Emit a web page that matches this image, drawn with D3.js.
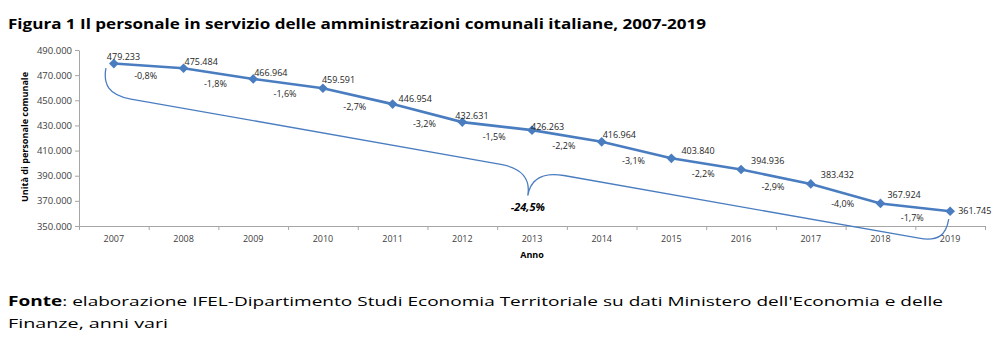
<!DOCTYPE html>
<html>
<head>
<meta charset="utf-8">
<script src="https://cdn.jsdelivr.net/npm/d3@7"></script>
<style>
body{margin:0;background:#fff;}
svg{display:block;font-family:"Open Sans",sans-serif;}
</style>
</head>
<body>
<div id="chart"></div>
<script>
// dati
var years = ["2007","2008","2009","2010","2011","2012","2013","2014","2015","2016","2017","2018","2019"];
var staff = [479233,475484,466964,459591,446954,432631,426263,416964,403840,394936,383432,367924,361745];
var changes = ["-0,8%","-1,8%","-1,6%","-2,7%","-3,2%","-1,5%","-2,2%","-3,1%","-2,2%","-2,9%","-4,0%","-1,7%"];
var totalChange = "-24,5%";
var yTicks = [350000,370000,390000,410000,430000,450000,470000,490000];

// spostamenti delle etichette (come nel grafico excel)
var labelNudge = [[-7,-7],[1,-6],[1,-6],[-1,-8],[6,-5],[-7,-6],[-1,-3],[1,-7],[10,-8],[10,-9],[10,-9],[7,-9],[8,0]];

var W = 1002, H = 347;
var blue = "#4a7dc0";
var it = d3.formatLocale({decimal:",", thousands:".", grouping:[3], currency:["€",""]});
var fmt = it.format(",d");

var svg = d3.select("#chart").append("svg")
	.attr("width", W)
	.attr("height", H);

// titolo
svg.append("text")
	.attr("x", 8)
	.attr("y", 29)
	.attr("font-size", 15)
	.attr("font-weight", "bold")
	.attr("fill", "#000")
	.attr("textLength", 698)
	.attr("lengthAdjust", "spacingAndGlyphs")
	.text("Figura 1 Il personale in servizio delle amministrazioni comunali italiane, 2007-2019");

//scales
var x = d3.scaleBand().domain(years).range([79, 985]).padding(0);
var y = d3.scaleLinear().domain([350000, 490000]).range([226, 50]);

var y_axis = d3.axisLeft(y).tickValues(yTicks).tickFormat(fmt).tickSize(4).tickSizeOuter(0);
var gy = svg.append("g")
	.attr("transform", "translate(79,0)")
	.call(y_axis);
gy.selectAll("text").attr("font-size", 9.5).attr("fill", "#404040").attr("font-family", "Open Sans").attr("x", -7);

// asse x: etichette al centro, tacche tra le categorie
var x_axis = d3.axisBottom(x).tickSize(0).tickSizeOuter(0).tickPadding(10);
var gx = svg.append("g")
	.attr("transform", "translate(0,226)")
	.call(x_axis);
gx.selectAll("text").attr("font-size", 9).attr("fill", "#404040").attr("font-family", "Open Sans");

var xt = d3.scaleLinear().domain([0, years.length]).range(x.range());
svg.append("g")
	.attr("transform", "translate(0,226)")
	.call(d3.axisBottom(xt).tickValues(d3.range(years.length + 1)).tickFormat("").tickSize(4).tickSizeOuter(0));

svg.selectAll(".domain, .tick line").attr("stroke", "#a6a6a6");

// titoli assi
svg.append("text")
	.attr("x", 532)
	.attr("y", 258)
	.attr("text-anchor", "middle")
	.attr("font-size", 9)
	.attr("font-weight", "bold")
	.attr("fill", "#000")
	.text("Anno");
svg.append("text")
	.attr("transform", "translate(28,137) rotate(-90)")
	.attr("text-anchor", "middle")
	.attr("font-size", 9)
	.attr("font-weight", "bold")
	.attr("fill", "#000")
	.attr("textLength", 130)
	.attr("lengthAdjust", "spacingAndGlyphs")
	.text("Unità di personale comunale");

var cx = function(i){ return x(years[i]) + x.bandwidth() / 2; };

// parentesi graffa della variazione totale
var p0 = [cx(0), y(staff[0])];
var p1 = [cx(years.length - 1), y(staff[staff.length - 1])];
var ang = Math.atan2(p1[1] - p0[1], p1[0] - p0[0]);
var L = Math.hypot(p1[0] - p0[0], p1[1] - p0[1]);
var uc = L * 0.507, off = 32, tip = 58;
var brace = d3.path();
brace.moveTo(-7, 6);
brace.bezierCurveTo(-7, 22, 0, off, 23, off);
brace.lineTo(uc - 32, off);
brace.bezierCurveTo(uc - 10, off, uc, off + 10, uc, tip);
brace.bezierCurveTo(uc, off + 10, uc + 10, off, uc + 32, off);
brace.lineTo(L - 26, off);
brace.bezierCurveTo(L - 6, off, L, off - 8, L, 8);
svg.append("path")
	.attr("transform", "translate(" + p0[0] + "," + p0[1] + ") rotate(" + (ang * 180 / Math.PI) + ")")
	.attr("d", brace.toString())
	.attr("fill", "none")
	.attr("stroke", blue)
	.attr("stroke-width", 1.3);

var tipX = p0[0] + uc * Math.cos(ang) - tip * Math.sin(ang);
var tipY = p0[1] + uc * Math.sin(ang) + tip * Math.cos(ang);
svg.append("text")
	.attr("x", tipX)
	.attr("y", tipY + 15)
	.attr("text-anchor", "middle")
	.attr("font-size", 11)
	.attr("font-weight", "bold")
	.attr("font-style", "italic")
	.attr("fill", "#000")
	.text(totalChange);

// linea
var line = d3.line()
	.x(function(d, i){ return cx(i); })
	.y(function(d){ return y(d); });
svg.append("path")
	.datum(staff)
	.attr("d", line)
	.attr("fill", "none")
	.attr("stroke", blue)
	.attr("stroke-width", 2.6);

svg.selectAll(".pt")
	.data(staff)
	.enter().append("path")
	.attr("class", "pt")
	.attr("d", d3.symbol().type(d3.symbolDiamond2).size(60))
	.attr("transform", function(d, i){ return "translate(" + cx(i) + "," + y(d) + ")"; })
	.attr("fill", blue);

// etichette valori
svg.selectAll(".lab")
	.data(staff)
	.enter().append("text")
	.attr("class", "lab")
	.attr("x", function(d, i){ return cx(i) + labelNudge[i][0]; })
	.attr("y", function(d, i){ return y(d) + labelNudge[i][1] + 3.2; })
	.attr("font-size", 9)
	.attr("fill", "#262626")
	.text(function(d){ return fmt(d); });

// variazioni annue
svg.selectAll(".chg")
	.data(changes)
	.enter().append("text")
	.attr("class", "chg")
	.attr("x", function(d, i){ return (cx(i) + cx(i + 1)) / 2 - 3; })
	.attr("y", function(d, i){ return (y(staff[i]) + y(staff[i + 1])) / 2 + 13.5; })
	.attr("text-anchor", "middle")
	.attr("font-size", 9)
	.attr("fill", "#262626")
	.text(function(d){ return d; });

// fonte
var f1 = svg.append("text")
	.attr("x", 8)
	.attr("y", 306)
	.attr("font-size", 13.5)
	.attr("fill", "#000")
	.attr("textLength", 935)
	.attr("lengthAdjust", "spacingAndGlyphs");
f1.append("tspan").attr("font-weight", "bold").text("Fonte");
f1.append("tspan").text(": elaborazione IFEL-Dipartimento Studi Economia Territoriale su dati Ministero dell'Economia e delle");
svg.append("text")
	.attr("x", 8)
	.attr("y", 328)
	.attr("font-size", 13.5)
	.attr("fill", "#000")
	.attr("textLength", 160)
	.attr("lengthAdjust", "spacingAndGlyphs")
	.text("Finanze, anni vari");
</script>
</body>
</html>
